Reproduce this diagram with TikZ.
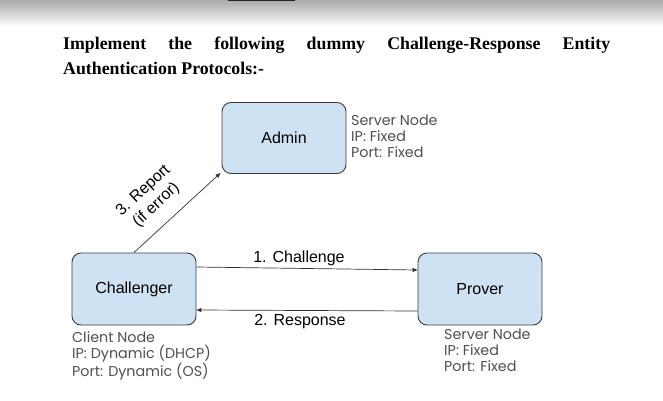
\documentclass[tikz,border=0pt]{standalone}
\usepackage{fontspec}
\setmainfont{Liberation Sans}
\newfontfamily\titlefont{Liberation Serif}
\newfontfamily\labfont{Poppins}
\usetikzlibrary{arrows.meta}
\definecolor{boxfill}{HTML}{CFE2F3}
\definecolor{boxline}{HTML}{3C3C3C}
\definecolor{labgray}{HTML}{505050}
\definecolor{arrline}{HTML}{333333}
\tikzset{
  entity/.style={draw=boxline, line width=0.9pt, fill=boxfill, rounded corners=9pt,
    minimum width=124pt, minimum height=71pt, inner sep=0pt,
    font=\fontsize{16}{19}\selectfont},
  infolab/.style={anchor=north west, align=left, inner sep=0pt, text=labgray,
    font=\labfont\fontsize{14.3}{16}\selectfont},
  msg/.style={draw=arrline, line width=0.7pt, -{Triangle[length=5pt,width=4pt]}},
  msglab/.style={inner sep=0pt, font=\fontsize{16}{19}\selectfont},
  titletext/.style={anchor=base west, inner sep=0pt, font=\titlefont\bfseries\fontsize{17.8}{20}\selectfont}
}
\begin{document}
\begin{tikzpicture}[x=1pt,y=-1pt]
\useasboundingbox (0,0) rectangle (663,401);
\fill[white] (0,0) rectangle (663,401);
\shade[top color=black!33, bottom color=white] (0,0) rectangle (663,27);
\fill[black!85] (228,0) rectangle (295,1.5);

\node[titletext] (t1) at (63,50) {\makebox[547pt][s]{Implement the following dummy Challenge-Response Entity}};
\node[titletext] (t2) at (63,75) {Authentication Protocols:-};

\node[entity] (admin) at (284,138) {Admin};
\node[entity, minimum height=72pt] (chal) at (134,289) {Challenger};
\node[entity, minimum height=72pt] (prover) at (480,289) {Prover};

\node[infolab] (adminlab) at (351,115) {Server Node\\IP: Fixed\\Port: Fixed};
\node[infolab] (challab) at (72,331) {Client Node\\IP: Dynamic (DHCP)\\Port: Dynamic (OS)};
\node[infolab] (proverlab) at (444,329) {Server Node\\IP: Fixed\\Port: Fixed};

\draw[msg] ([yshift=22pt]chal.east) -- ([yshift=19pt]prover.west);
\draw[msg] ([yshift=-22pt]prover.west) -- ([yshift=-21pt]chal.east);
\draw[msg] (chal.north) -- ([xshift=-1pt,yshift=1pt]admin.south west);

\node[msglab] (l1) at (299,258) {1. Challenge};
\node[msglab] (l2) at (300,322) {2. Response};
\node[msglab, rotate=43, align=center, font=\fontsize{16}{19}\selectfont] (l3) at (150,198) {3. Report\\(if error)};
\end{tikzpicture}
\end{document}
